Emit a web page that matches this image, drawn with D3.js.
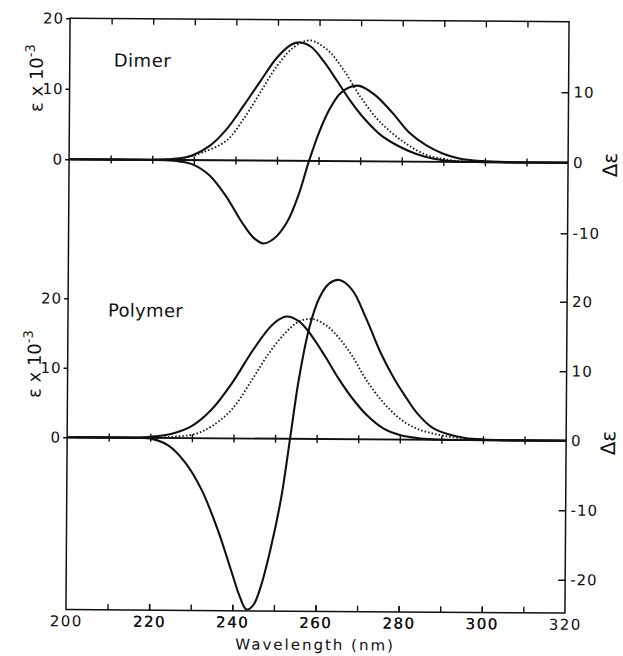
<!DOCTYPE html>
<html>
<head>
<meta charset="utf-8">
<script src="https://cdn.jsdelivr.net/npm/d3@7"></script>
<style>
  html, body { margin: 0; padding: 0; background: #fff; }
  svg { display: block; }
  text { font-family: "DejaVu Sans", sans-serif; fill: #111; }
</style>
</head>
<body>
<svg id="chart" width="623" height="656"></svg>
<script>
// ---- data -------------------------------------------------------------
// wavelength axis (nm)
const wavelengthDomain = [200, 320];
const wavelengthTicks = [210, 220, 230, 240, 250, 260, 270, 280, 290, 300, 310];
const wavelengthLabels = [200, 220, 240, 260, 280, 300, 320];

// axis ticks for each panel
const dimerEpsTicks = [0, 10, 20];
const dimerCdTicks = [-10, 0, 10];
const polymerEpsTicks = [0, 10, 20];
const polymerCdTicks = [-20, -10, 0, 10, 20];
const polymerCdMin = -24.8;

// Dimer: absorption (epsilon x 10^-3), [nm, value]
const dimerAbs = [
  [200, 0], [212, 0], [220, 0.02], [226, 0.2], [229.7, 0.7], [233.7, 2.0],
  [237.8, 4.4], [241.8, 7.7], [245.8, 11.2], [249.8, 14.6], [253.3, 16.5],
  [255.5, 16.8], [258, 16.2], [261, 14.2], [264.3, 11.4], [267.5, 8.6],
  [271, 6.0], [275, 3.7], [279.5, 2.1], [283.5, 1.1], [288, 0.4], [292, 0.12],
  [298, 0.02], [306, 0], [320, 0]
];
// Dimer: reference (monomer) absorption, dotted
const dimerRef = [
  [200, 0], [212, 0], [222, 0.05], [228, 0.35], [232.1, 1.1], [237.8, 2.8],
  [241.8, 5.8], [245.8, 9.6], [249.8, 13.4], [253.8, 16.1], [257.6, 17.1],
  [261.9, 15.8], [265.9, 12.9], [269.9, 9.2], [273.9, 6.1], [277.5, 4.1],
  [281.4, 2.4], [285.4, 1.1], [289.4, 0.45], [294, 0.1], [300, 0.02], [306, 0], [320, 0]
];
// Dimer: circular dichroism (delta epsilon)
const dimerCd = [
  [200, 0], [215, 0], [223, -0.05], [226.5, -0.2], [229.7, -0.6], [233.7, -2.1],
  [237.7, -5.0], [241.7, -8.8], [244.6, -11.0], [246.9, -11.75], [249.5, -11.0],
  [252.6, -8.6], [255.2, -4.9], [257.7, 0], [260.1, 4.1], [262.5, 7.3],
  [264.9, 9.5], [267.3, 10.5], [269.7, 10.7], [273.5, 9.4], [277.7, 6.9],
  [281.8, 4.1], [285.8, 2.35], [289.8, 1.2], [293.8, 0.5], [299.4, 0.15],
  [306, 0.02], [312, 0], [320, 0]
];

// Polymer: absorption
const polymerAbs = [
  [200, 0], [210, 0], [216, 0.03], [220, 0.15], [225.2, 0.6], [230, 1.75],
  [234.8, 4.2], [239.6, 8.0], [244.4, 12.6], [248.4, 15.9], [250.6, 17.1],
  [252.6, 17.6], [255.6, 16.9], [258.8, 14.7], [262, 11.8], [265.3, 8.6],
  [268.5, 5.9], [272, 3.5], [276, 1.6], [280, 0.65], [285, 0.18], [290, 0.03],
  [296, 0], [320, 0]
];
// Polymer: reference (monomer) absorption, dotted
const polymerRef = [
  [200, 0], [212, 0], [220, 0.03], [226, 0.2], [230.8, 0.6], [234.8, 1.75],
  [239.6, 4.2], [244.4, 8.5], [248.4, 12.3], [252.4, 15.3], [255.6, 16.9],
  [258.8, 17.25], [262, 16.4], [265.3, 14.5], [268.5, 11.9], [272, 8.4],
  [276, 5.3], [280, 3.0], [284, 1.6], [288, 0.9], [292, 0.45], [296, 0.18],
  [302, 0.03], [308, 0], [320, 0]
];
// Polymer: circular dichroism
const polymerCd = [
  [200, 0], [212, 0], [217, -0.03], [220.4, -0.15], [224.4, -1.1], [228.4, -3.5],
  [232.4, -7.4], [236.4, -13.2], [239.6, -18.9], [241.8, -22.8], [243.4, -24.6],
  [245, -24.0], [246.8, -21.3], [249.2, -15.6], [251.6, -8.4], [253.6, 0],
  [255.6, 8.5], [258, 15.9], [260.4, 20.3], [262.8, 22.4], [265.2, 22.9],
  [268.3, 21.5], [271.7, 17.4], [275.3, 12.4], [278.7, 8.6], [281.5, 6.0],
  [284, 3.9], [287.7, 1.8], [291.7, 0.8], [295.7, 0.3], [300, 0.1], [306, 0.02],
  [312, 0], [320, 0]
];

// ---- layout -----------------------------------------------------------
const svg = d3.select("#chart");
// the whole figure sits very slightly turned on the page
const root = svg.append("g").attr("transform", "rotate(0.4 317 316)");
const frame = { left: 68, right: 567, top: 20 };

const x = d3.scaleLinear().domain(wavelengthDomain).range([frame.left, frame.right]);
const yDimer = d3.scaleLinear().domain([0, 20]).range([161, 20]);
const yPolymer = d3.scaleLinear().domain([0, 20]).range([439, 300]);
const frameBottom = yPolymer(polymerCdMin);

const ink = "#111";
const fmt = d => String(d);

// frame
root.append("rect")
  .attr("x", frame.left).attr("y", frame.top)
  .attr("width", frame.right - frame.left)
  .attr("height", frameBottom - frame.top)
  .attr("fill", "none").attr("stroke", ink).attr("stroke-width", 1.5);

function styleAxis(g, size) {
  g.select(".domain").remove();
  g.selectAll(".tick line").attr("stroke", ink).attr("stroke-width", 1.4);
  g.selectAll(".tick text")
    .attr("fill", ink)
    .style("font-size", (size || 15) + "px")
    .style("font-family", "'DejaVu Sans', sans-serif");
}

// top border ticks (pointing inward)
root.append("g").attr("transform", `translate(0,${frame.top})`)
  .call(d3.axisTop(x).tickValues(wavelengthTicks).tickSize(-6).tickFormat(""))
  .call(styleAxis);

// bottom axis with labels, ticks pointing inward
root.append("g").attr("transform", `translate(0,${frameBottom})`)
  .call(d3.axisBottom(x).tickValues(wavelengthLabels.concat(wavelengthTicks))
    .tickSize(-6).tickPadding(6)
    .tickFormat(d => wavelengthLabels.includes(d) ? fmt(d) : ""))
  .call(g => {
    styleAxis(g, 15);
    g.selectAll(".tick").filter(d => d === 200 || d === 320).select("line").remove();
    g.selectAll(".tick text").style("letter-spacing", "1.5px");
  });

// zero lines of both panels, ticks crossing the line
[yDimer, yPolymer].forEach(y => {
  const y0 = y(0);
  root.append("line")
    .attr("x1", frame.left).attr("x2", frame.right)
    .attr("y1", y0).attr("y2", y0)
    .attr("stroke", ink).attr("stroke-width", 1.9);
  [4, -4].forEach(s => {
    root.append("g").attr("transform", `translate(0,${y0})`)
      .call(d3.axisBottom(x).tickValues(wavelengthTicks).tickSize(s).tickFormat(""))
      .call(styleAxis);
  });
});

// left epsilon axes
[[yDimer, dimerEpsTicks], [yPolymer, polymerEpsTicks]].forEach(([y, ticks]) => {
  root.append("g").attr("transform", `translate(${frame.left},0)`)
    .call(d3.axisLeft(y).tickValues(ticks).tickSize(4).tickPadding(2).tickFormat(fmt))
    .call(g => {
      styleAxis(g, 15);
      g.selectAll(".tick text").style("letter-spacing", "1px");
    });
});

// right delta-epsilon axes
[[yDimer, dimerCdTicks], [yPolymer, polymerCdTicks]].forEach(([y, ticks]) => {
  root.append("g").attr("transform", `translate(${frame.right},0)`)
    .call(d3.axisRight(y).tickValues(ticks).tickSize(-7).tickPadding(5).tickFormat(fmt))
    .call(g => {
      styleAxis(g, 15);
      g.selectAll(".tick text").style("letter-spacing", "1px");
    });
});

// ---- curves -----------------------------------------------------------
function draw(data, y, dotted) {
  const line = d3.line()
    .x(d => x(d[0]))
    .y(d => y(d[1]))
    .curve(d3.curveCatmullRom.alpha(0.5));
  root.append("path")
    .datum(data)
    .attr("d", line)
    .attr("fill", "none")
    .attr("stroke", ink)
    .attr("stroke-width", dotted ? 1.8 : 2.1)
    .attr("stroke-dasharray", dotted ? "1.5 2.1" : null)
    .attr("stroke-linejoin", "round");
}

draw(dimerRef, yDimer, true);
draw(dimerAbs, yDimer, false);
draw(dimerCd, yDimer, false);
draw(polymerRef, yPolymer, true);
draw(polymerAbs, yPolymer, false);
draw(polymerCd, yPolymer, false);

// ---- labels -----------------------------------------------------------
root.append("text").attr("x", 112).attr("y", 68)
  .style("font-size", "18px").style("letter-spacing", "0.5px").text("Dimer");
root.append("text").attr("x", 108).attr("y", 318)
  .style("font-size", "18px").style("letter-spacing", "0.3px").text("Polymer");

function epsLabel(cy) {
  const t = root.append("text")
    .attr("transform", `translate(41,${cy}) rotate(-90)`)
    .attr("text-anchor", "middle")
    .style("font-size", "18px");
  t.append("tspan").text("\u03b5 x 10");
  t.append("tspan").attr("dy", -8).style("font-size", "13px").text("-3");
}
epsLabel(80);
epsLabel(366);

function deltaLabel(cy) {
  root.append("text")
    .attr("transform", `translate(616,${cy}) rotate(-90)`)
    .attr("text-anchor", "middle")
    .style("font-size", "20px")
    .text("\u0394\u03b5");
}
deltaLabel(163);
deltaLabel(441);

root.append("text")
  .attr("x", (frame.left + frame.right) / 2).attr("y", 650)
  .attr("text-anchor", "middle")
  .style("font-size", "15px").style("letter-spacing", "2px")
  .text("Wavelength (nm)");
</script>
</body>
</html>
